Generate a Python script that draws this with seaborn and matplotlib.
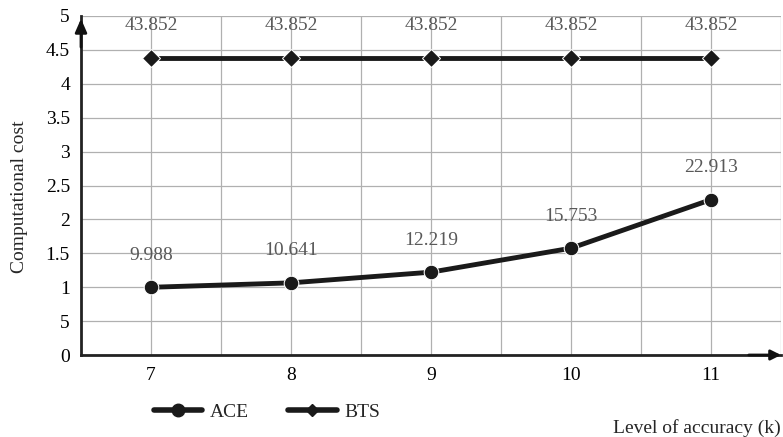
import matplotlib
matplotlib.use("Agg")
import matplotlib.pyplot as plt
import seaborn as sns
import pandas as pd
from matplotlib.lines import Line2D

levels = [7, 8, 9, 10, 11]
ace_values = [9.988, 10.641, 12.219, 15.753, 22.913]
bts_values = [43.852, 43.852, 43.852, 43.852, 43.852]
ytick_positions = [0, 0.5, 1, 1.5, 2, 2.5, 3, 3.5, 4, 4.5, 5]
ytick_labels = ["0", "5", "1", "1.5", "2", "2.5", "3", "3.5", "4", "4.5", "5"]
series_names = ["ACE", "BTS"]

sns.set_style("white")
plt.rcParams["font.family"] = ["Liberation Serif", "DejaVu Serif"]

df = pd.DataFrame({
    "level": levels * 2,
    "value": [v / 10 for v in ace_values] + [v / 10 for v in bts_values],
    "label": ace_values + bts_values,
    "series": ["ACE"] * 5 + ["BTS"] * 5,
})

fig = plt.figure(figsize=(7.83, 4.37), dpi=100)
ax = fig.add_axes([81 / 783, 1 - 355 / 437, 700 / 783, 339 / 437])

sns.lineplot(data=df, x="level", y="value", hue="series", style="series",
             markers={"ACE": "o", "BTS": "D"}, dashes=False,
             palette={"ACE": "#1a1a1a", "BTS": "#1a1a1a"},
             linewidth=3.5, markersize=10.5, ax=ax, legend=False)
for ln in ax.lines:
    if ln.get_marker() == "D":
        ln.set_markersize(9.5)

for _, r in df.iterrows():
    ax.annotate(f"{r['label']:.3f}", (r["level"], r["value"]), xytext=(0, 23),
                textcoords="offset points", ha="center", va="center",
                fontsize=14, color="#595959")

ax.set_xlim(6.5, 11.5)
ax.set_ylim(0, 5)
ax.set_xticks(levels)
ax.set_xticklabels([str(l) for l in levels])
ax.set_yticks(ytick_positions)
ax.set_yticklabels(ytick_labels)
ax.set_xticks([6.5 + 0.5 * i for i in range(1, 11)], minor=True)
ax.grid(True, which="both", axis="x", color="#b0b0b0", linewidth=0.9)
ax.grid(True, which="major", axis="y", color="#b0b0b0", linewidth=0.9)
ax.set_axisbelow(True)
ax.tick_params(axis="both", which="both", length=0, labelsize=14, colors="black")
ax.tick_params(axis="x", pad=9)
ax.tick_params(axis="y", pad=8)
ax.set_xlabel("")
ax.set_ylabel("")
for s in ["top", "right"]:
    ax.spines[s].set_visible(False)
for s in ["left", "bottom"]:
    ax.spines[s].set_color("#222222")
    ax.spines[s].set_linewidth(2)

ax.annotate("", xy=(0, 1.0), xycoords="axes fraction", xytext=(0, 0.9),
            arrowprops=dict(arrowstyle="-|>,head_length=0.8,head_width=0.35",
                            color="#111111", lw=2), annotation_clip=False)
ax.annotate("", xy=(1.004, 0), xycoords="axes fraction", xytext=(0.95, 0),
            arrowprops=dict(arrowstyle="-|>,head_length=0.6,head_width=0.3",
                            color="#111111", lw=2), annotation_clip=False)

fig.text(20 / 783, 1 - 197 / 437, "Computational cost", rotation=90,
         ha="center", va="center", fontsize=14)
fig.text(781 / 783, 1 - 428 / 437, "Level of accuracy (k)", ha="right",
         va="center", fontsize=14)

handles = [Line2D([], [], color="#1a1a1a", lw=4, marker="o", markersize=9),
           Line2D([], [], color="#1a1a1a", lw=4, marker="D", markersize=6)]
fig.legend(handles, series_names, loc="center left",
           bbox_to_anchor=(136 / 783, 1 - 412 / 437), ncol=2, frameon=False,
           fontsize=14, handlelength=2.5, handletextpad=0.4,
           columnspacing=2.0)

fig.savefig("out.png", dpi=100)
